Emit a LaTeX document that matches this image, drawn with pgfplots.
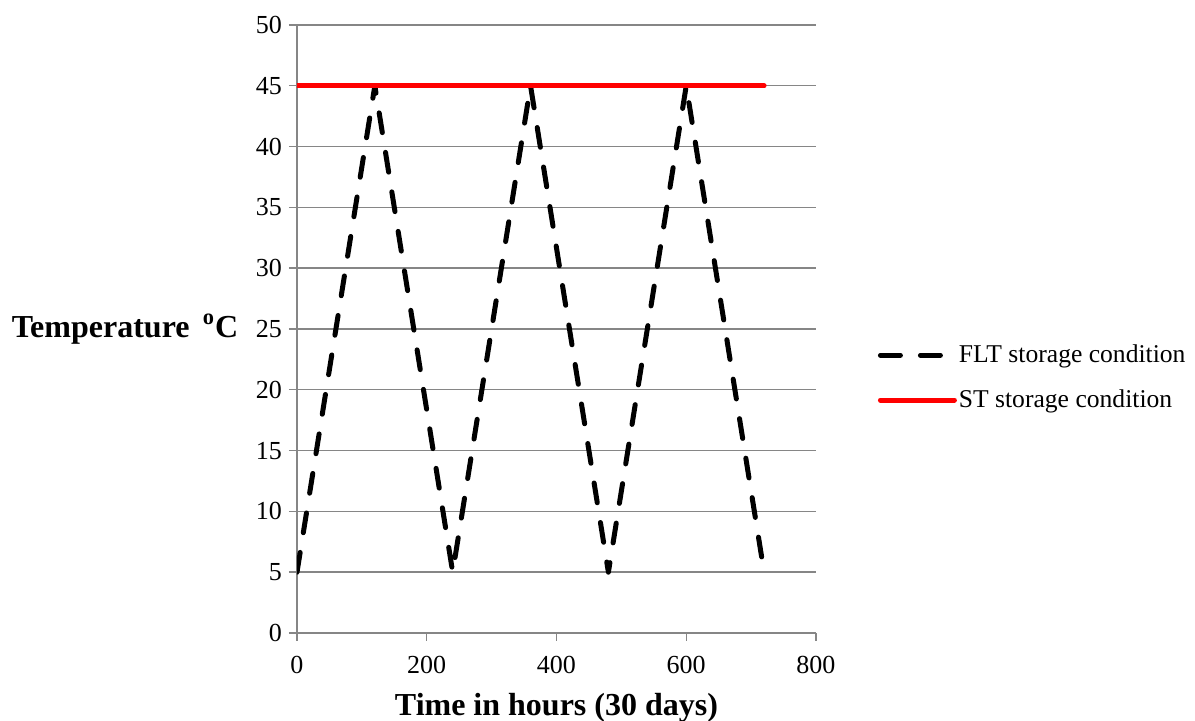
\documentclass[border=0pt]{standalone}
\usepackage{fontspec}
\setmainfont{Liberation Serif}
\usepackage{pgfplots}
\pgfplotsset{compat=1.18}

\definecolor{gridgray}{HTML}{868686}

\begin{document}
\begin{tikzpicture}
\path[use as bounding box] (-148.5pt,-44pt) rectangle (449pt,316.5pt);
\begin{axis}[
scale only axis,
width=259.5pt, height=304pt,
xmin=0, xmax=800, ymin=0, ymax=50,
xtick={0,200,400,600,800},
ytick={0,5,...,50},
axis x line*=bottom, axis y line*=left,
axis line style={gridgray, line width=0.7pt},
tick style={gridgray, line width=0.7pt},
tick align=outside, major tick length=4pt,
ymajorgrids,
grid style={gridgray, line width=0.7pt},
/pgf/number format/assume math mode=true,
ticklabel style={font=\fontsize{13}{14}\selectfont},
xticklabel style={yshift=-4pt},
xlabel={\textbf{Time in hours (30 days)}},
xlabel style={font=\fontsize{16}{17}\selectfont, yshift=-3pt},
ylabel={\textbf{Temperature \,\textsuperscript{o}C}},
every axis y label/.style={at={(ticklabel cs:0.5)}, anchor=east, xshift=-2pt, font=\fontsize{16}{17}\selectfont},
legend style={at={(1.107,0.42)}, anchor=west, draw=none, fill=none,
  font=\fontsize{12.8}{14}\selectfont, row sep=8pt,
  nodes={inner xsep=1pt},
  /tikz/every even column/.append style={column sep=0pt}},
legend cell align=left,
legend image code/.code={\draw[#1] (0pt,0pt) -- (37pt,0pt);},
]
\addplot[black, line width=2.5pt, line cap=round, line join=round, dash pattern=on 10pt off 10pt]
coordinates {(0,5) (120,45) (240,5) (360,45) (480,5) (600,45) (720,5)};
\addlegendentry{FLT storage condition}
\addplot[red, line width=2.5pt, line cap=round]
coordinates {(0,45) (720,45)};
\addlegendentry{ST storage condition}
\end{axis}
\end{tikzpicture}
\end{document}
